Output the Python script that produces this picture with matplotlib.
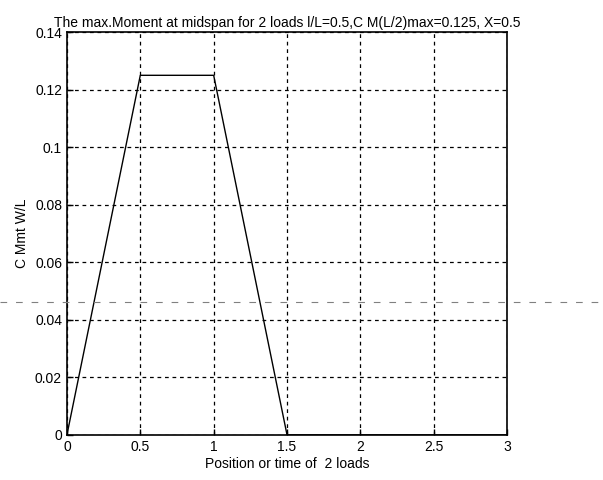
import matplotlib.pyplot as plt
from matplotlib.lines import Line2D

plt.rcParams['font.family'] = ['Liberation Sans', 'DejaVu Sans']

position = [0, 0.5, 1.0, 1.5, 2.0, 2.5, 3.0]
moment = [0, 0.125, 0.125, 0, 0, 0, 0]

xticks = [0, 0.5, 1, 1.5, 2, 2.5, 3]
xticklabels = ['0', '0.5', '1', '1.5', '2', '2.5', '3']
yticks = [0, 0.02, 0.04, 0.06, 0.08, 0.1, 0.12, 0.14]
yticklabels = ['0', '0.02', '0.04', '0.06', '0.08', '0.1', '0.12', '0.14']

fig = plt.figure(figsize=(6.03, 4.8), dpi=100)
ax = fig.add_axes([0.111, 0.094, 0.730, 0.839])

ax.plot(position, moment, color='black', linewidth=1.0)

ax.set_xlim(0, 3)
ax.set_ylim(0, 0.14)
ax.set_xticks(xticks)
ax.set_xticklabels(xticklabels)
ax.set_yticks(yticks)
ax.set_yticklabels(yticklabels)
ax.tick_params(direction='in', length=4, labelsize=10, width=1)
ax.grid(True, color='black', linestyle=(0, (3, 3)), linewidth=0.9)
for s in ax.spines.values():
    s.set_linewidth(1.2)

ax.set_title('The max.Moment at midspan for 2 loads l/L=0.5,C M(L/2)max=0.125, X=0.5',
             fontsize=10, pad=4)
ax.set_xlabel('Position or time of  2 loads', fontsize=10, labelpad=2)
ax.set_ylabel('C Mmt W/L', fontsize=10)

# faint scan line across the page
fig.add_artist(Line2D([0, 1], [1 - 302 / 480, 1 - 302 / 480], transform=fig.transFigure,
                      color='gray', linestyle=(0, (6, 8)), linewidth=0.8))

fig.savefig('out.png', dpi=100)
